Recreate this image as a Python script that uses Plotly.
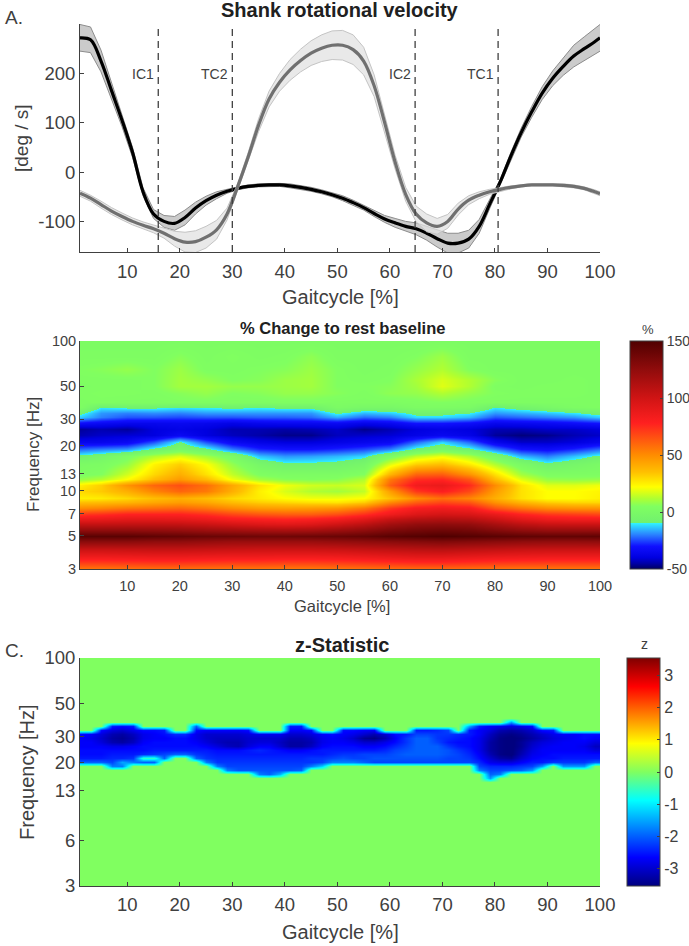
import plotly.graph_objects as go

W, H = 689, 946
FONT = "Liberation Sans"
INK = "#404040"

# panel A: shank velocity
gait_x = [1, 3, 5, 7, 9, 11, 13, 15, 17, 19, 21, 23, 25, 27, 29, 31, 33, 35, 37, 39, 41, 43, 45, 47, 49,
          51, 53, 55, 57, 59, 61, 63, 65, 67, 69, 71, 73, 75, 77, 79, 81, 83, 85, 87, 89, 91, 93, 95, 97, 99, 100]
shank_black = [272, 268, 225, 165, 105, 40, -40, -85, -100, -104, -92, -73, -58, -47, -39, -33, -29, -27, -26, -26,
               -28, -31, -35, -40, -46, -53, -62, -72, -84, -95, -103, -110, -115, -124, -135, -144, -144, -136,
               -110, -65, -20, 32, 80, 122, 160, 190, 214, 235, 250, 264, 272]
black_sd = [27, 26, 22, 17, 13, 10, 8, 9, 12, 14, 15, 12, 9, 7, 4, 3, 3, 3, 3, 3,
            4, 4, 4, 4, 4, 5, 5, 5, 6, 7, 9, 10, 12, 14, 17, 20, 20, 18,
            14, 9, 5, 7, 9, 11, 13, 15, 18, 22, 24, 26, 27]
shank_gray = [-43, -53, -66, -79, -90, -100, -108, -115, -124, -135, -142, -141, -132, -117, -85, -30, 30, 95, 148, 182,
              207, 226, 241, 251, 257, 257, 248, 225, 175, 100, 20, -45, -85, -103, -110, -100, -75, -57,
              -47, -40, -35, -31, -28, -26, -26, -26, -27, -29, -33, -40, -44]
gray_sd = [6, 6, 7, 7, 7, 7, 7, 8, 10, 15, 20, 22, 22, 19, 12, 6, 9, 13, 16, 18,
           21, 23, 25, 27, 29, 30, 30, 28, 22, 18, 14, 14, 16, 18, 16, 14, 12, 9,
           7, 5, 4, 3, 2, 2, 2, 2, 3, 3, 3, 4, 4]
event_x = [15.9, 30, 64.8, 80.6]
event_names = ["IC1", "TC2", "IC2", "TC1"]
velocity_ticks = [-100, 0, 100, 200]

# panel B: % change to rest baseline
pct_x = [1, 5, 10, 15, 20, 25, 30, 35, 40, 45, 50, 55, 60, 65, 70, 75, 80, 85, 90, 95, 100]
pct_freq = [3, 3.6, 4.1, 4.6, 5, 5.5, 6, 6.5, 7, 7.7, 8.4, 9, 10, 11, 12, 13, 15, 17, 19, 21, 23.5, 26, 28.5, 31, 33,
            36, 39, 45, 50, 55, 65, 80, 100]
pct_change = [
    [55, 55, 56, 57, 57, 56, 55, 55, 54, 54, 55, 56, 57, 58, 58, 57, 56, 55, 55, 55, 55],
    [84, 84, 85, 86, 86, 85, 84, 84, 83, 83, 84, 86, 88, 90, 90, 88, 86, 85, 84, 84, 84],
    [103, 103, 104, 105, 105, 104, 103, 102, 102, 102, 103, 105, 107, 109, 110, 108, 106, 104, 103, 103, 103],
    [128, 128, 128, 126, 126, 124, 122, 122, 122, 122, 124, 126, 128, 130, 132, 130, 128, 126, 125, 125, 126],
    [146, 146, 146, 144, 142, 140, 139, 138, 138, 139, 140, 142, 146, 148, 150, 148, 146, 144, 143, 143, 144],
    [125, 125, 125, 124, 123, 120, 118, 116, 115, 116, 120, 125, 132, 136, 138, 136, 130, 125, 122, 122, 122],
    [105, 105, 106, 106, 105, 102, 98, 94, 92, 94, 100, 108, 118, 124, 126, 124, 116, 108, 103, 102, 102],
    [88, 89, 91, 91, 90, 87, 82, 80, 78, 80, 84, 92, 104, 110, 112, 110, 102, 92, 86, 84, 84],
    [72, 74, 78, 78, 78, 74, 68, 64, 62, 62, 66, 74, 85, 94, 98, 96, 88, 78, 72, 70, 68],
    [50, 52, 56, 58, 60, 56, 50, 46, 45, 46, 48, 56, 72, 82, 85, 82, 65, 56, 50, 48, 48],
    [35, 36, 38, 42, 45, 42, 36, 32, 30, 28, 27, 32, 50, 62, 68, 64, 48, 38, 32, 30, 30],
    [25, 26, 30, 36, 40, 36, 30, 26, 22, 20, 20, 22, 35, 50, 58, 52, 40, 28, 22, 22, 25],
    [30, 33, 40, 52, 60, 55, 40, 25, 17, 12, 10, 14, 45, 72, 80, 68, 45, 28, 22, 22, 24],
    [25, 32, 48, 60, 66, 58, 42, 28, 20, 16, 15, 17, 62, 84, 88, 76, 50, 28, 18, 18, 20],
    [8, 12, 22, 36, 46, 36, 20, 10, 6, 5, 6, 12, 55, 74, 76, 64, 36, 18, 8, 7, 8],
    [3, 5, 16, 30, 40, 28, 14, 4, 2, 2, 2, 5, 38, 60, 62, 48, 28, 10, 3, 3, 3],
    [1, 2, 8, 24, 32, 22, 8, -3, -8, -8, -7, -3, 18, 32, 36, 26, 12, 0, -8, -4, 0],
    [-8, -4, 3, 12, 18, 10, 1, -14, -18, -17, -15, -12, 2, 14, 20, 12, -1, -15, -20, -14, -8],
    [-22, -20, -18, -8, -1, -8, -20, -28, -30, -30, -28, -25, -20, -8, -2, -8, -20, -30, -32, -28, -22],
    [-36, -36, -34, -24, -9, -24, -34, -38, -40, -40, -38, -36, -34, -22, -12, -22, -36, -42, -42, -40, -36],
    [-44, -42, -41, -40, -34, -40, -43, -45, -47, -47, -43, -42, -41, -38, -35, -38, -46, -48, -47, -44, -42],
    [-46, -44, -46, -40, -38, -40, -44, -44, -45, -44, -42, -47, -44, -40, -38, -40, -44, -44, -42, -42, -40],
    [-32, -34, -36, -36, -35, -36, -38, -36, -35, -35, -34, -37, -35, -30, -30, -32, -36, -35, -34, -32, -30],
    [-13, -20, -24, -24, -25, -24, -24, -23, -23, -22, -16, -22, -20, -12, -12, -15, -24, -22, -20, -18, -13],
    [-8, -18, -20, -19, -20, -18, -18, -18, -18, -18, -9, -15, -13, -8, -8, -10, -18, -16, -14, -11, -7],
    [3, -10, -8, -8, -10, -9, -8, -9, -8, -8, 1, -2, -2, 2, 2, 1, -10, -6, -2, 2, 3],
    [3, 4, 3, 3, 4, 4, 3, 3, 4, 4, 3, 3, 3, 4, 5, 4, 3, 3, 3, 3, 3],
    [4, 5, 5, 4, 6, 8, 5, 6, 8, 8, 6, 4, 7, 8, 12, 8, 5, 4, 4, 4, 3],
    [3, 4, 4, 5, 10, 10, 8, 8, 9, 10, 5, 5, 6, 10, 18, 12, 4, 3, 4, 4, 3],
    [4, 4, 4, 5, 10, 8, 5, 6, 9, 10, 5, 4, 5, 11, 17, 12, 6, 3, 3, 4, 3],
    [5, 6, 8, 5, 9, 4, 4, 5, 6, 9, 5, 3, 4, 8, 12, 5, 3, 3, 3, 3, 3],
    [3, 3, 3, 3, 6, 3, 5, 3, 4, 7, 3, 3, 3, 5, 9, 3, 3, 3, 3, 3, 3],
    [2, 2, 2, 2, 2, 2, 2, 2, 2, 2, 2, 2, 2, 2, 2, 2, 2, 2, 2, 2, 2],
]
pct_bar_ticks = [-50, 0, 50, 100, 150]

# panel C: z statistic, masked outside the significant band
z_x = list(range(1, 100, 2))
z_freq = [3, 14.9, 15.9, 16.9, 17.95, 19.1, 20.3, 21.6, 23.0, 24.4, 26.0, 27.6, 29.4, 31.3, 33.3, 35.4, 37.6, 40, 100]
z_band = [
    [0, 0, 0, 0, 0, 0, 0, 0, 0, 0, 0, 0, 0, 0, 0, 0, 0, 0, 0, 0, 0, 0, 0, 0, 0, 0, 0, 0, 0, 0, 0, 0, 0, 0, 0, 0, 0, 0, 0, -1.6, 0, 0, 0, 0, 0, 0, 0, 0, 0, 0],
    [0, 0, 0, 0, 0, 0, 0, 0, 0, 0, 0, 0, 0, 0, 0, 0, 0, -1.8, -2.0, -1.4, 0, 0, 0, 0, 0, 0, 0, 0, 0, 0, 0, 0, 0, 0, 0, 0, 0, 0, 0, -2.0, -1.8, 0, 0, 0, 0, 0, 0, 0, 0, 0],
    [0, 0, 0, 0, 0, 0, 0, 0, 0, 0, 0, 0, 0, 0, -1.8, -2.1, -2.1, -2.1, -2.1, -2.1, -2.1, -2.0, 0, 0, 0, 0, 0, 0, 0, 0, 0, 0, 0, 0, 0, 0, 0, 0, -1.8, -2.2, -2.2, -2.1, -2.0, -1.6, 0, 0, 0, 0, 0, 0],
    [0, 0, 0, -1.8, -1.8, 0, 0, 0, 0, 0, 0, 0, 0, -1.8, -2.2, -2.2, -2.2, -2.2, -2.2, -2.2, -2.2, -2.2, -1.8, -1.2, 0, 0, 0, 0, 0, 0, 0, 0, 0, 0, 0, 0, 0, 0, -2.2, -2.4, -2.4, -2.4, -2.3, -2.2, -1.6, 0, -1.6, -1.6, -1.6, 0],
    [-2.0, -2.0, -2.0, -2.2, -1.5, -1.8, -2.0, -2.0, 0, 0, 0, 0, -1.8, -2.3, -2.3, -2.3, -2.3, -2.3, -2.3, -2.3, -2.3, -2.3, -2.3, -2.2, -1.8, -1.8, -1.8, -2.0, -2.2, -2.2, -2.2, -2.2, -2.2, -2.2, -2.2, -2.2, -2.2, -2.2, -2.4, -2.8, -2.9, -2.9, -2.7, -2.5, -2.5, -2.3, -2.3, -2.3, -2.3, -2.0],
    [-2.5, -2.5, -2.5, -2.4, -2.4, -2.3, -0.6, -0.6, -2.0, 0, 0, -2.0, -2.3, -2.4, -2.4, -2.4, -2.4, -2.4, -2.4, -2.4, -2.4, -2.4, -2.3, -2.3, -2.2, -2.1, -2.2, -2.2, -2.1, -2.1, -2.1, -2.1, -2.1, -2.1, -2.1, -2.2, -2.2, -2.3, -2.6, -3.0, -3.3, -3.4, -3.0, -2.7, -2.6, -2.6, -2.5, -2.5, -2.5, -2.5],
    [-2.6, -2.6, -2.6, -2.5, -2.5, -2.5, -2.4, -2.3, -2.2, -2.0, -2.0, -2.3, -2.4, -2.5, -2.5, -2.5, -2.5, -2.5, -2.5, -2.5, -2.5, -2.5, -2.5, -2.5, -2.4, -2.3, -2.3, -2.2, -2.2, -2.2, -2.1, -2.0, -2.0, -2.0, -2.0, -2.1, -2.2, -2.4, -2.7, -3.2, -3.5, -3.6, -3.2, -2.8, -2.7, -2.6, -2.6, -2.6, -2.6, -2.6],
    [-2.6, -2.6, -2.6, -2.6, -2.6, -2.6, -2.6, -2.5, -2.5, -2.5, -2.5, -2.5, -2.5, -2.6, -2.6, -2.6, -2.5, -2.4, -2.5, -2.6, -2.7, -2.7, -2.6, -2.5, -2.5, -2.5, -2.5, -2.5, -2.5, -2.4, -2.2, -2.1, -2.0, -2.0, -2.0, -2.1, -2.3, -2.5, -2.8, -3.3, -3.5, -3.6, -3.3, -2.9, -2.7, -2.7, -2.7, -2.7, -2.7, -2.9],
    [-2.7, -2.7, -2.7, -2.8, -2.8, -2.7, -2.6, -2.6, -2.6, -2.6, -2.6, -2.6, -2.7, -2.9, -3.1, -3.2, -2.9, -2.7, -2.7, -3.0, -3.3, -3.3, -3.1, -2.7, -2.6, -2.6, -2.6, -2.7, -2.7, -2.6, -2.4, -2.2, -2.0, -2.0, -2.0, -2.3, -2.5, -2.6, -2.8, -3.3, -3.5, -3.6, -3.4, -3.0, -2.8, -2.7, -2.7, -2.7, -2.8, -3.1],
    [-2.7, -2.7, -2.9, -3.2, -3.3, -3.1, -2.7, -2.6, -2.6, -2.6, -2.6, -2.7, -2.9, -3.1, -3.2, -3.2, -3.0, -2.9, -2.9, -3.1, -3.3, -3.3, -3.2, -2.8, -2.7, -2.7, -2.8, -3.0, -3.0, -2.8, -2.6, -2.3, -2.0, -2.0, -2.2, -2.5, -2.6, -2.6, -2.8, -3.3, -3.5, -3.6, -3.4, -3.1, -2.9, -2.8, -2.7, -2.7, -2.7, -2.9],
    [-2.7, -2.8, -3.0, -3.3, -3.4, -3.2, -2.8, -2.7, -2.7, -2.6, -2.6, -2.8, -3.0, -3.1, -3.1, -3.1, -3.0, -3.0, -3.0, -3.0, -3.2, -3.2, -3.1, -2.8, -2.7, -2.8, -3.0, -3.4, -3.5, -3.2, -2.7, -2.3, -2.0, -2.0, -2.3, -2.4, -2.5, -2.6, -2.8, -3.2, -3.5, -3.6, -3.5, -3.3, -3.1, -2.9, -2.8, -2.7, -2.6, -2.7],
    [-2.6, -2.7, -2.9, -3.2, -3.3, -3.1, -2.8, -2.7, -2.6, -2.4, -2.4, -2.8, -3.0, -3.0, -3.0, -3.0, -2.9, -2.8, -2.8, -2.8, -3.0, -3.0, -2.9, -2.7, -2.6, -2.7, -2.8, -3.0, -3.2, -3.0, -2.6, -2.5, -2.2, -2.2, -2.3, -2.3, -2.4, -2.5, -2.7, -3.1, -3.4, -3.5, -3.4, -3.2, -3.0, -2.8, -2.7, -2.7, -2.6, -2.6],
    [0, 0, -2.6, -2.9, -3.0, -2.8, -2.6, -2.6, -2.5, 0, 0, -2.6, -2.7, -2.7, -2.7, -2.7, -2.6, 0, 0, 0, -2.7, -2.7, -2.6, 0, 0, -2.6, -2.6, -2.7, -2.7, 0, 0, 0, -2.5, -2.5, -2.4, -2.2, 0, -2.5, -2.7, -2.9, -3.2, -3.3, -3.2, -3.0, -2.6, -2.5, 0, 0, 0, 0],
    [0, 0, 0, -2.5, -2.6, -2.5, 0, 0, 0, 0, 0, -2.0, 0, 0, 0, 0, 0, 0, 0, 0, -2.5, -2.5, 0, 0, 0, 0, 0, 0, 0, 0, 0, 0, 0, 0, 0, 0, 0, -1.5, -2.5, -2.7, -2.8, -2.9, -2.8, -2.6, 0, 0, 0, 0, 0, 0],
    [0, 0, 0, 0, 0, 0, 0, 0, 0, 0, 0, 0, 0, 0, 0, 0, 0, 0, 0, 0, 0, 0, 0, 0, 0, 0, 0, 0, 0, 0, 0, 0, 0, 0, 0, 0, 0, 0, 0, 0, 0, -1.6, 0, 0, 0, 0, 0, 0, 0, 0],
]
zeros = [0] * len(z_x)
z_stat = [zeros, zeros] + z_band + [zeros, zeros]
z_bar_ticks = [-3, -2, -1, 0, 1, 2, 3]

gait_ticks = [10, 20, 30, 40, 50, 60, 70, 80, 90, 100]
freq_ticks_b = [3, 5, 7, 10, 13, 20, 30, 50, 100]
freq_ticks_c = [3, 6, 13, 20, 30, 50, 100]


def pct_scale():
    # jet below and above a flat green jump at -10
    stops = [(-50, "#000060"), (-45, "#0000a8"), (-40, "#0000e0"), (-30, "#1010ff"), (-20, "#2a80ff"), (-10.01, "#30f0ff"),
             (-10, "#70f070"), (5, "#80ff60"), (12, "#b0ff30"), (22, "#ffff00"), (35, "#ffc000"),
             (50, "#ff8c00"), (78, "#ff2020"), (100, "#d01414"), (125, "#900c0c"), (150, "#500000")]
    return [[(v + 50) / 200, c] for v, c in stops]


JET = [[0, "#00007f"], [0.125, "#0000ff"], [0.375, "#00ffff"], [0.5, "#80ff60"],
       [0.625, "#ffff00"], [0.875, "#ff0000"], [1, "#7f0000"]]


def xdom(a, b):
    return [a / W, b / W]


def ydom(top, bottom):
    return [1 - bottom / H, 1 - top / H]


def note(x, y, text, size, bold=False, angle=0, anchor="center", color=INK):
    return dict(x=x / W, y=1 - y / H, xref="paper", yref="paper", text=f"<b>{text}</b>" if bold else text,
                showarrow=False, textangle=angle, xanchor=anchor, yanchor="middle",
                font=dict(family=FONT, size=size, color=color))


def colorbar(x_px, bottom_px, ticks, size):
    return dict(x=x_px / W, xanchor="left", thickness=33, thicknessmode="pixels",
                y=1 - bottom_px / H, yanchor="bottom", len=228 / H, lenmode="fraction",
                tickmode="array", tickvals=ticks, ticktext=[str(t) for t in ticks],
                ticks="inside", ticklen=3, tickcolor=INK, outlinecolor=INK, outlinewidth=1, xpad=0, ypad=0,
                tickfont=dict(family=FONT, size=size, color=INK))


fig = go.Figure()

# gait curves, black limb first
fig.add_trace(go.Scatter(x=gait_x, y=[m + s for m, s in zip(shank_black, black_sd)], mode="lines",
                         line=dict(color="#8c8c8c", width=1), showlegend=False, xaxis="x", yaxis="y"))
fig.add_trace(go.Scatter(x=gait_x, y=[m - s for m, s in zip(shank_black, black_sd)], mode="lines", fill="tonexty",
                         fillcolor="rgba(190,190,190,0.8)", line=dict(color="#8c8c8c", width=1),
                         showlegend=False, xaxis="x", yaxis="y"))
fig.add_trace(go.Scatter(x=gait_x, y=shank_black, mode="lines", line=dict(color="black", width=3.2, shape="spline"),
                         showlegend=False, xaxis="x", yaxis="y"))
fig.add_trace(go.Scatter(x=gait_x, y=[m + s for m, s in zip(shank_gray, gray_sd)], mode="lines",
                         line=dict(color="#c4c4c4", width=1), showlegend=False, xaxis="x", yaxis="y"))
fig.add_trace(go.Scatter(x=gait_x, y=[m - s for m, s in zip(shank_gray, gray_sd)], mode="lines", fill="tonexty",
                         fillcolor="rgba(225,225,225,0.75)", line=dict(color="#c4c4c4", width=1),
                         showlegend=False, xaxis="x", yaxis="y"))
fig.add_trace(go.Scatter(x=gait_x, y=shank_gray, mode="lines", line=dict(color="#707070", width=3.2, shape="spline"),
                         showlegend=False, xaxis="x", yaxis="y"))

fig.add_trace(go.Heatmap(x=pct_x, y=pct_freq, z=pct_change, zmin=-50, zmax=150, zsmooth="best",
                         colorscale=pct_scale(), xaxis="x2", yaxis="y2",
                         colorbar=colorbar(630, 569, pct_bar_ticks, 14)))
fig.add_trace(go.Heatmap(x=z_x, y=z_freq, z=z_stat, zmin=-3.55, zmax=3.55, zsmooth="best",
                         colorscale=JET, xaxis="x3", yaxis="y3",
                         colorbar=colorbar(627, 886, z_bar_ticks, 16)))

axis_style = dict(showgrid=False, zeroline=False, showline=True, linecolor=INK, linewidth=1,
                  ticks="inside", ticklen=4, tickcolor=INK)

shapes = [dict(type="line", xref="x", yref="y", x0=e, x1=e, y0=-162, y1=300,
               line=dict(color="#404040", width=1.3, dash="7px,5px")) for e in event_x]

annotations = [
    note(3, 18, "A.", 19, anchor="left"),
    note(340, 10, "Shank rotational velocity", 20, bold=True, color="#202020"),
    note(21, 138, "[deg / s]", 19, angle=-90),
    note(340, 297, "Gaitcycle [%]", 20),
    note(342, 328, "% Change to rest baseline", 16.5, bold=True, color="#202020"),
    note(33, 455, "Frequency [Hz]", 17, angle=-90),
    note(342, 606, "Gaitcycle [%]", 16.5),
    note(648, 329, "%", 13),
    note(3, 650, "C.", 19, anchor="left"),
    note(342, 645, "z-Statistic", 20, bold=True, color="#202020"),
    note(27, 772, "Frequency [Hz]", 20, angle=-90),
    note(340, 932, "Gaitcycle [%]", 20),
    note(644, 644, "z", 14),
]
for e, name in zip(event_x, event_names):
    annotations.append(dict(x=e, y=198, xref="x", yref="y", text=name, showarrow=False, xanchor="right", xshift=-2,
                            font=dict(family=FONT, size=14, color=INK)))

fig.update_layout(
    width=W, height=H, margin=dict(l=0, r=0, t=0, b=0, autoexpand=False), paper_bgcolor="white", plot_bgcolor="white",
    showlegend=False, shapes=shapes, annotations=annotations,
    xaxis=dict(domain=xdom(80, 600), range=[1, 100], tickvals=gait_ticks, ticklabelstandoff=3,
               tickfont=dict(family=FONT, size=18.5, color=INK), anchor="y", **axis_style),
    yaxis=dict(domain=ydom(24, 252), range=[-162, 300], tickmode="array", tickvals=velocity_ticks,
               ticktext=[str(t) for t in velocity_ticks],
               tickfont=dict(family=FONT, size=18.5, color=INK), anchor="x", **axis_style),
    xaxis2=dict(domain=xdom(80, 600), range=[1, 100], tickvals=gait_ticks, ticklabelstandoff=4,
                tickfont=dict(family=FONT, size=14.5, color=INK), anchor="y2", **axis_style),
    yaxis2=dict(domain=ydom(341, 569), type="log", range=[0.4771, 2], tickvals=freq_ticks_b,
                ticktext=[str(v) for v in freq_ticks_b], tickfont=dict(family=FONT, size=14.5, color=INK),
                anchor="x2", **axis_style),
    xaxis3=dict(domain=xdom(80, 600), range=[1, 100], tickvals=gait_ticks, ticklabelstandoff=2,
                tickfont=dict(family=FONT, size=18.5, color=INK), anchor="y3", **axis_style),
    yaxis3=dict(domain=ydom(658, 886), type="log", range=[0.4771, 2], tickvals=freq_ticks_c,
                ticktext=[str(v) for v in freq_ticks_c], tickfont=dict(family=FONT, size=18.5, color=INK),
                anchor="x3", **axis_style),
)

# the page's default body margin would push the picture 8px off
fig.write_html("out.html", config={"displayModeBar": False}, post_script="document.body.style.margin='0';")
